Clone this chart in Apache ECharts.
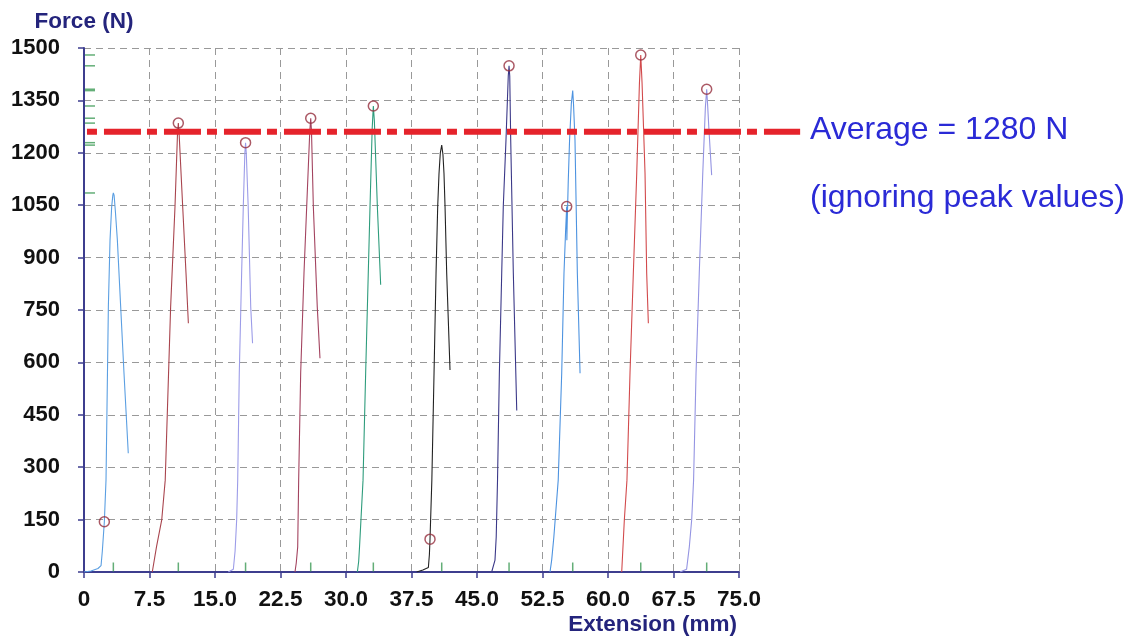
<!DOCTYPE html>
<html>
<head>
<meta charset="utf-8">
<script src="https://cdn.jsdelivr.net/npm/echarts@6/dist/echarts.min.js"></script>
<style>
html,body{margin:0;padding:0;background:#fff;}
#chart{width:1136px;height:639px;}
</style>
</head>
<body>
<div id="chart"></div>
<script>
// ---- tick labels ----
const xTickLabels = ['0','7.5','15.0','22.5','30.0','37.5','45.0','52.5','60.0','67.5','75.0'];
const yTickLabels = ['0','150','300','450','600','750','900','1050','1200','1350','1500'];

// ---- specimen curves: extension (mm) / force (N) ----
const curve1X = [0, 0.8, 1.6, 1.95, 2.1, 2.33, 2.52, 2.79, 2.98, 3.17, 3.3, 3.36, 3.45, 3.6, 3.82, 4.2, 4.58, 5.07];
const curve1Y = [0, 3, 10, 18, 60, 144, 263, 759, 950, 1046, 1078, 1085, 1078, 1030, 950, 759, 569, 340];
const curve2X = [7.82, 8.3, 8.9, 9.3, 9.92, 10.42, 10.7, 10.8, 10.9, 11.3, 11.68, 11.95];
const curve2Y = [0, 72, 149, 263, 759, 1046, 1250, 1285, 1250, 1046, 855, 712];
const curve3X = [16.52, 17.1, 17.3, 17.48, 17.6, 17.78, 18.05, 18.24, 18.42, 18.5, 18.58, 18.8, 19.09, 19.3];
const curve3Y = [0, 8, 60, 149, 263, 569, 855, 1046, 1200, 1229, 1200, 1046, 759, 655];
const curve4X = [24.16, 24.3, 24.47, 24.58, 24.81, 25.19, 25.5, 25.85, 25.96, 26.05, 26.26, 26.71, 27.02];
const curve4Y = [0, 25, 72, 263, 569, 855, 1046, 1260, 1299, 1260, 1046, 759, 612];
const curve5X = [31.3, 31.45, 31.55, 31.95, 32.25, 32.55, 32.75, 33.0, 33.13, 33.25, 33.59, 33.97];
const curve5Y = [0, 30, 72, 263, 569, 855, 1046, 1270, 1334, 1290, 1046, 822];
const curve6X = [38.09, 38.8, 39.43, 39.55, 39.62, 39.83, 40.08, 40.31, 40.5, 40.65, 40.8, 40.96, 41.1, 41.22, 41.34, 41.53, 41.91];
const curve6Y = [0, 6, 13, 50, 94, 263, 569, 855, 1046, 1141, 1200, 1222, 1195, 1141, 1046, 855, 578];
const curve7X = [46.68, 47.06, 47.2, 47.35, 47.56, 47.83, 48.01, 48.32, 48.58, 48.67, 48.75, 48.86, 49.16, 49.55];
const curve7Y = [0, 34, 100, 263, 569, 855, 1046, 1237, 1420, 1449, 1420, 1237, 855, 462];
const curve8X = [53.36, 53.55, 53.8, 54.3, 54.7, 54.96, 55.15, 55.27, 55.29, 55.32, 55.45, 55.6, 55.8, 55.96, 56.05, 56.22, 56.49, 56.8];
const curve8Y = [0, 34, 100, 263, 569, 855, 980, 1046, 950, 990, 1120, 1237, 1340, 1378, 1340, 1237, 855, 569];
const curve9X = [61.57, 61.87, 62.17, 62.52, 62.9, 63.29, 63.6, 63.75, 63.9, 64.24, 64.43, 64.62];
const curve9Y = [0, 149, 263, 569, 855, 1141, 1400, 1480, 1400, 1141, 855, 712];
const curve10X = [68.25, 69.0, 69.31, 69.58, 69.8, 70.08, 70.45, 70.85, 71.15, 71.3, 71.4, 71.55, 71.87];
const curve10Y = [0, 8, 72, 149, 263, 569, 855, 1141, 1330, 1382, 1340, 1270, 1136];

// ---- circled points ----
const markerX = [2.33, 10.8, 18.5, 25.96, 33.13, 39.62, 48.67, 55.27, 63.75, 71.3];
const markerY = [144, 1285, 1229, 1299, 1334, 94, 1449, 1046, 1480, 1382];

// ---- average line (as drawn; runs past the plot to the annotation) ----
const averageValue = 1260;
const averageLineX = [0.34, 82.0];
const averageText = 'Average = 1280 N';
const averageNote = '(ignoring peak values)';

const curvesX = [curve1X, curve2X, curve3X, curve4X, curve5X, curve6X, curve7X, curve8X, curve9X, curve10X];
const curvesY = [curve1Y, curve2Y, curve3Y, curve4Y, curve5Y, curve6Y, curve7Y, curve8Y, curve9Y, curve10Y];
const curveColors = ['#5b9fe2', '#a9454e', '#9c9ce8', '#a3435f', '#2e9c7c', '#222222', '#3b3888', '#4d93e0', '#d24a4c', '#9494e2'];

const FONT = "'Liberation Sans', Arial, sans-serif";

// layout of the plot (pixels)
const GRID_LEFT = 84, GRID_TOP = 48, GRID_RIGHT = 397, GRID_BOTTOM = 67;
const PLOT_W = 1136 - GRID_LEFT - GRID_RIGHT;
const X_MAX = 75;
// overlay grid extended to the right so the average line can continue past the plot
const OVERLAY_RIGHT = 336;
const OVERLAY_W = 1136 - GRID_LEFT - OVERLAY_RIGHT;
const OVERLAY_X_MAX = X_MAX * OVERLAY_W / PLOT_W;

const series = [];
const peakXs = [], peakYs = [];
curvesX.forEach((xs, i) => {
  const ys = curvesY[i];
  let pk = 0;
  ys.forEach((v, j) => { if (v > ys[pk]) pk = j; });
  peakXs.push(xs[pk]); peakYs.push(ys[pk]);
  series.push({
    type: 'line',
    xAxisIndex: 0, yAxisIndex: 0,
    data: xs.map((x, j) => [x, ys[j]]),
    showSymbol: false,
    symbol: 'none',
    lineStyle: { color: curveColors[i], width: 1.1 },
    z: 3
  });
});

// peak projections on the axes
series.push({
  type: 'scatter',
  xAxisIndex: 0, yAxisIndex: 0,
  data: peakYs.map(v => [0, v]),
  symbol: 'rect',
  symbolSize: [10, 1.5],
  symbolOffset: [6, 0],
  itemStyle: { color: '#3c9a55' },
  clip: false,
  z: 4,
  silent: true
});
series.push({
  type: 'scatter',
  xAxisIndex: 0, yAxisIndex: 0,
  data: peakXs.map(v => [v, 0]),
  symbol: 'rect',
  symbolSize: [1.5, 9],
  symbolOffset: [0, -5],
  itemStyle: { color: '#3c9a55' },
  clip: false,
  z: 4,
  silent: true
});

// average line on the extended overlay grid
series.push({
  type: 'line',
  xAxisIndex: 1, yAxisIndex: 1,
  data: averageLineX.map(x => [x, averageValue]),
  showSymbol: false,
  symbol: 'none',
  clip: false,
  lineStyle: { color: '#e5232b', width: 6, type: [10, 7, 37, 6], cap: 'butt' },
  z: 6,
  silent: true
});

// circled points
series.push({
  type: 'scatter',
  xAxisIndex: 0, yAxisIndex: 0,
  data: markerX.map((x, i) => [x, markerY[i]]),
  symbol: 'circle',
  symbolSize: 10,
  itemStyle: { color: 'rgba(255,255,255,0)', borderColor: '#96303e', borderWidth: 1.5 },
  z: 8,
  clip: false,
  silent: true
});

const chart = echarts.init(document.getElementById('chart'), null, { renderer: 'canvas' });
chart.setOption({
  animation: false,
  backgroundColor: '#ffffff',
  grid: [
    { left: GRID_LEFT, top: GRID_TOP, right: GRID_RIGHT, bottom: GRID_BOTTOM, containLabel: false, outerBoundsMode: 'none' },
    { left: GRID_LEFT, top: GRID_TOP, right: OVERLAY_RIGHT, bottom: GRID_BOTTOM, containLabel: false, outerBoundsMode: 'none' }
  ],
  xAxis: [{
    type: 'value', gridIndex: 0,
    min: 0, max: X_MAX, interval: 7.5,
    axisLine: { show: true, onZero: false, lineStyle: { color: '#3d3d8e', width: 2 } },
    axisTick: { show: true, length: 6, lineStyle: { color: '#3d3d8e', width: 1.5 } },
    axisLabel: {
      margin: 16,
      color: '#111',
      fontFamily: FONT, fontWeight: 'bold', fontSize: 22.5,
      formatter: (v, i) => xTickLabels[i]
    },
    splitLine: { show: true, lineStyle: { color: '#999', width: 1, type: [7, 5] } }
  }, {
    type: 'value', gridIndex: 1, show: false,
    min: 0, max: OVERLAY_X_MAX,
    splitLine: { show: false }
  }],
  yAxis: [{
    type: 'value', gridIndex: 0,
    min: 0, max: 1500, interval: 150,
    axisLine: { show: true, onZero: false, lineStyle: { color: '#3d3d8e', width: 2 } },
    axisTick: { show: true, length: 6, lineStyle: { color: '#3d3d8e', width: 1.5 } },
    axisLabel: {
      margin: 24,
      color: '#111',
      fontFamily: FONT, fontWeight: 'bold', fontSize: 22,
      formatter: (v, i) => yTickLabels[i]
    },
    splitLine: { show: true, lineStyle: { color: '#999', width: 1, type: [7, 5] } }
  }, {
    type: 'value', gridIndex: 1, show: false,
    min: 0, max: 1500,
    splitLine: { show: false }
  }],
  graphic: [
    { type: 'text', x: 84, y: 22, style: { text: 'Force (N)', align: 'center', verticalAlign: 'middle', font: "bold 22.5px 'Liberation Sans', Arial, sans-serif", fill: '#24247c' } },
    { type: 'text', x: 737, y: 625, style: { text: 'Extension (mm)', align: 'right', verticalAlign: 'middle', font: "bold 22.5px 'Liberation Sans', Arial, sans-serif", fill: '#24247c' } },
    { type: 'text', x: 810, y: 130, style: { text: averageText, align: 'left', verticalAlign: 'middle', font: "32px 'Liberation Sans', Arial, sans-serif", fill: '#2a2ad6' } },
    { type: 'text', x: 810, y: 198, style: { text: averageNote, align: 'left', verticalAlign: 'middle', font: "32px 'Liberation Sans', Arial, sans-serif", fill: '#2a2ad6' } }
  ],
  series: series
});
</script>
</body>
</html>
